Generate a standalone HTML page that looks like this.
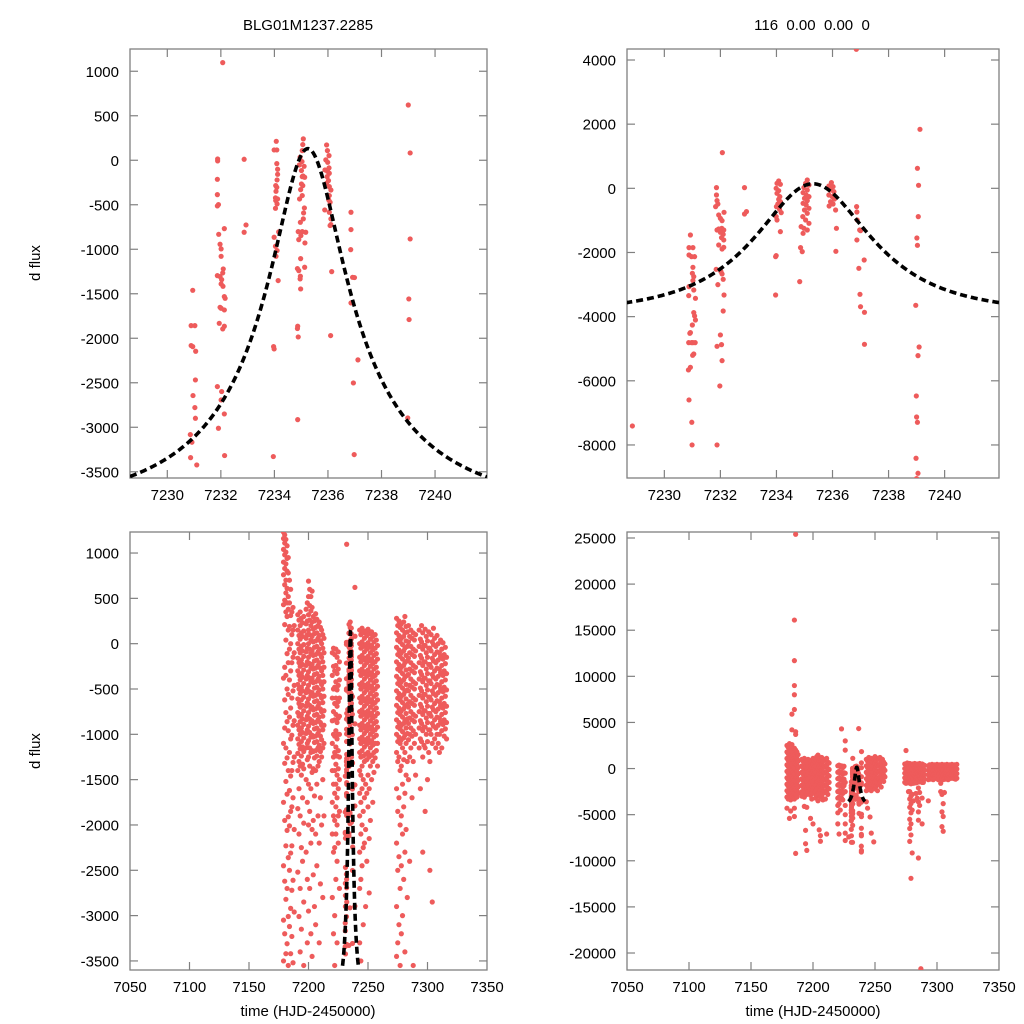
<!DOCTYPE html>
<html><head><meta charset="utf-8"><style>
body{margin:0;background:#fff;}
svg{display:block;font-family:"Liberation Sans",Arial,sans-serif;}
</style></head><body>
<svg id="chart" width="1024" height="1024" viewBox="0 0 1024 1024" xmlns="http://www.w3.org/2000/svg">
<text x="308" y="30" font-size="15" text-anchor="middle">BLG01M1237.2285</text>
<text x="812" y="30" font-size="15" text-anchor="middle" xml:space="preserve">116  0.00  0.00  0</text>
<text x="40" y="263" font-size="15" text-anchor="middle" transform="rotate(-90 40 263)">d flux</text>
<text x="40" y="751" font-size="15" text-anchor="middle" transform="rotate(-90 40 751)">d flux</text>
<text x="308" y="1016" font-size="15" text-anchor="middle">time (HJD-2450000)</text>
<text x="813" y="1016" font-size="15" text-anchor="middle">time (HJD-2450000)</text>
</svg>
<script>
// ---- zoomed-window data (top-left panel, left photometry) ----
const tlT=[7230.95,7230.89,7231.03,7230.89,7230.95,7231.06,7231.05,7230.96,7231.03,7231.05,7230.86,7230.92,7230.87,7231.10,
7232.07,7231.88,7231.88,7231.87,7231.87,7231.91,7231.87,7232.13,7231.92,7231.97,7232.01,7232.01,7232.09,7232.07,7231.87,7231.97,7232.03,7232.01,7232.08,7232.13,7232.16,7231.97,7232.01,7232.13,7231.94,7232.13,7232.07,7231.87,7232.03,7232.01,7232.13,7231.91,7232.14,
7232.87,7232.94,7232.87,
7234.07,7233.99,7234.09,7234.09,7234.12,7234.12,7234.10,7234.05,7234.09,7234.06,7234.04,7234.12,7234.05,7234.10,7234.04,7234.16,7233.99,7234.04,7234.10,7234.06,7234.14,7233.97,7233.99,7233.96,
7235.08,7235.06,7235.04,7234.96,7235.03,7234.93,7235.11,7235.01,7235.07,7235.04,7235.13,7235.01,7235.06,7234.98,7235.04,7234.94,7235.12,7235.09,7235.08,7234.97,7234.89,7235.04,7235.17,7234.99,7234.91,7235.14,7234.98,7235.13,7234.86,7234.91,7234.97,7234.96,7234.98,7234.87,7234.86,7234.89,7234.87,
7235.95,7235.98,7236.04,7235.92,7235.99,7236.04,7235.89,7235.98,7236.05,7235.97,7236.02,7235.95,7236.05,7236.11,7236.05,7236.03,7236.08,7235.88,7236.05,7236.11,7236.08,7236.11,7236.14,7236.10,
7236.86,7236.86,7236.85,7236.92,7236.99,7236.86,7237.12,7236.95,7236.98,
7239.00,7239.07,7239.07,7239.02,7239.03,7238.98];
const tlF=[-1461,-1858,-1858,-2082,-2094,-2146,-2468,-2644,-2779,-2899,-3082,-3168,-3341,-3423,
1097,15,-7,-214,-386,-498,-513,-768,-832,-944,-996,-1079,-1221,-1266,-1296,-1307,-1341,-1390,-1416,-1532,-1551,-1652,-1663,-1682,-1832,-1865,-1895,-2543,-2599,-2693,-2850,-3011,-3318,
11,-727,-809,
213,116,116,-38,-101,-158,-221,-285,-304,-349,-423,-435,-453,-491,-540,-805,-865,-966,-1015,-1079,-1352,-2094,-2120,-3329,
240,176,108,34,-15,-53,-68,-116,-176,-184,-191,-266,-285,-330,-397,-435,-536,-592,-659,-697,-802,-802,-809,-847,-892,-929,-1105,-1202,-1217,-1240,-1303,-1333,-1446,-1865,-1891,-1985,-2914,
172,108,52,4,-23,-86,-109,-124,-146,-184,-229,-259,-296,-334,-397,-446,-472,-558,-584,-659,-734,-723,-1251,-1970,
-584,-779,-1004,-1315,-1318,-1603,-2243,-2502,-3307,
621,82,-884,-1558,-1790,-2895];
// ---- zoomed-window data (top-right panel, right photometry) ----
const trT=[7236.85,7228.86,
7230.93,7230.88,7231.02,7230.88,7230.97,7231.08,7231.02,7231.00,7231.05,7231.02,7230.88,7230.87,7231.05,7231.11,7231.05,7231.08,7231.11,7231.00,7230.93,7230.91,7230.97,7230.87,7231.02,7231.10,7231.05,7231.01,7230.93,7230.86,7230.88,7230.98,7230.99,
7232.07,7231.86,7231.86,7231.88,7231.91,7231.83,7232.13,7231.94,7232.00,7232.06,7231.94,7232.05,7231.88,7232.12,7232.00,7232.10,7232.04,7232.12,7231.94,7232.12,7232.06,7231.85,7232.02,7232.06,7232.10,7231.91,7232.13,7232.10,7232.00,7232.04,7231.88,7232.06,7231.98,7231.88,
7232.86,7232.93,7232.86,
7234.08,7234.02,7234.14,7233.99,7234.08,7234.02,7234.12,7234.08,7234.14,7234.05,7234.00,7234.11,7234.17,7233.99,7234.02,7234.14,7233.99,7233.97,7233.97,
7235.10,7235.04,7235.16,7234.98,7235.10,7234.95,7235.06,7235.16,7235.00,7235.10,7234.95,7235.06,7235.16,7235.00,7235.10,7234.94,7235.04,7235.16,7234.88,7234.98,7235.10,7234.95,7234.86,7234.92,7234.83,
7235.96,7235.87,7236.02,7235.93,7236.05,7235.87,7235.99,7236.07,7235.93,7236.02,7235.88,7236.11,7236.14,7236.12,
7236.86,7236.87,7236.88,7236.97,7237.00,7236.87,7237.13,7236.94,7236.98,7237.00,7237.14,7237.14,
7239.12,7239.03,7239.07,7239.06,7239.01,7239.03,7238.97,7239.09,7239.05,7238.99,7239.00,7239.03,7238.98,7239.05,7239.00];
const trF=[4333,-7408,
-1455,-1849,-1849,-2078,-2130,-2130,-2462,-2649,-2753,-2878,-3065,-3346,-3169,-3429,-3875,-3979,-4104,-4260,-4499,-4519,-4810,-4810,-4810,-4810,-5164,-5205,-5579,-5662,-6597,-7293,-7999,
1112,21,-208,-384,-488,-571,-748,-831,-935,-1008,-1268,-1247,-1299,-1299,-1371,-1434,-1538,-1610,-1766,-1839,-1891,-2525,-2597,-2670,-2836,-3003,-3325,-3824,-4571,-4873,-4925,-5372,-6161,-7999,
21,-727,-800,
228,156,125,0,-73,-156,-260,-343,-416,-488,-571,-654,-758,-883,-987,-1351,-2099,-2130,-3325,
260,156,104,21,-52,-135,-208,-260,-312,-384,-467,-519,-623,-675,-779,-883,-987,-1091,-1195,-1247,-1299,-1403,-1849,-1974,-2909,
177,73,52,-52,-104,-208,-260,-333,-416,-488,-551,-675,-1247,-1964,
-571,-738,-987,-1299,-1320,-1610,-2234,-2494,-3304,-3689,-3865,-4863,
1839,624,94,-883,-1548,-1777,-3647,-4946,-5216,-6473,-7128,-7293,-8415,-8883,-9050];
// ---- full-season nightly data (bottom panels) ----
const nightT=[7179,7180,7181,7182,7183,7184,7185,7186,7187,7188,
7191,7192,7193,7194,7195,7196,7198,7199,7200,7201,7202,7203,7204,7205,7206,7207,7208,7209,7210,7211,7212,7213,
7220,7221,7222,7223,7224,7225,7226,
7243,7244,7245,7246,7247,7248,7249,7250,7251,7252,7253,7254,7255,7256,7257,7258,
7274,7275,7276,7277,7278,7279,7280,7281,7282,7283,7284,7285,7286,7287,7288,7289,7290,
7293,7294,7295,7296,7297,7298,7299,7300,7301,7302,7303,7304,7305,7306,7307,7308,7309,7310,7311,7312,7313,7314,7315,7316];
const nightFL=[
[1230,1160,1040,900,760,430,-380,-1100,-1750,-2450,-3050,-3500],
[1200,1110,980,830,650,480,210,-260,-620,-930,-1320,-1950,-2620,-3200],
[1150,1010,880,700,560,350,40,-350,-760,-1150,-1520,-2230,-2820,-3420],
[1080,940,800,610,450,300,-110,-500,-860,-1260,-1660,-2060,-2700,-3310],
[950,780,520,380,150,-210,-560,-960,-1400,-1910,-2360,-3010,-3550],
[700,450,190,-60,-400,-810,-1200,-1620,-2010,-2500,-3120],
[600,310,0,-300,-710,-1050,-1460,-1850,-2310,-2920,-3420],
[350,100,-210,-600,-1010,-1400,-1800,-2230,-2720,-3230],
[400,150,-150,-520,-900,-1310,-1700,-2610,-3520],
[200,-100,-460,-850,-1250,-2050,-2960],
[320,150,0,-160,-300,-450,-610,-760,-900,-1050,-1210,-1400,-1820,-2520],
[260,90,-60,-210,-350,-500,-660,-800,-950,-1110,-1300,-1600,-2100,-3010],
[350,200,50,-100,-250,-400,-550,-700,-860,-1000,-1160,-1350,-1900,-2700,-3400],
[280,120,-30,-180,-330,-480,-620,-780,-930,-1080,-1240,-1450,-2250,-3150],
[230,80,-80,-230,-370,-520,-680,-830,-980,-1140,-1330,-1700,-2400],
[300,140,-10,-140,-290,-440,-590,-740,-890,-1040,-1190,-1380,-1980,-2850,-3550],
[380,220,60,-90,-240,-390,-540,-690,-840,-990,-1150,-1500,-2300],
[450,250,100,-50,-200,-350,-500,-650,-800,-950,-1100,-1280,-1750,-2600,-3300],
[690,520,320,150,0,-150,-310,-460,-610,-760,-910,-1070,-1250,-1550,-2000,-2950],
[600,420,260,100,-60,-220,-380,-530,-680,-830,-980,-1150,-1350,-1850,-2700],
[520,360,200,40,-110,-270,-420,-570,-720,-870,-1030,-1200,-1600,-2200,-3200],
[580,400,240,80,-80,-230,-380,-540,-700,-850,-1010,-1180,-1420,-2050,-3450],
[300,160,20,-130,-280,-430,-580,-730,-880,-1030,-1190,-1380,-1950,-2550],
[250,110,-40,-190,-340,-490,-640,-790,-940,-1090,-1260,-1680,-2900],
[330,180,30,-120,-270,-420,-570,-720,-870,-1020,-1180,-1400,-2100,-3100],
[270,120,-30,-180,-330,-480,-630,-780,-930,-1080,-1240,-1550,-2450],
[200,60,-90,-240,-390,-540,-690,-840,-990,-1150,-1350,-1900],
[240,90,-60,-210,-360,-510,-660,-810,-960,-1120,-1300,-2200,-3300],
[180,30,-120,-270,-420,-570,-720,-870,-1020,-1190,-1700,-2650],
[150,0,-150,-300,-450,-600,-750,-900,-1060,-1250,-2000],
[100,-50,-200,-350,-500,-650,-800,-950,-1150,-1500,-2800],
[60,-100,-260,-420,-580,-740,-900,-1100,-1900],
[-100,-350,-600,-850,-1100,-1400,-1750,-2100,-2800],
[-50,-250,-500,-750,-1000,-1250,-1550,-1900,-2300,-3200],
[-120,-300,-480,-660,-840,-1020,-1200,-1400,-1650,-1950,-2250,-3000,-3550],
[-60,-240,-420,-600,-780,-960,-1140,-1330,-1550,-1800,-2100,-2600],
[-150,-330,-510,-690,-870,-1050,-1240,-1450,-1700,-2000,-2400,-3300],
[-90,-280,-460,-640,-820,-1000,-1180,-1380,-1600,-1900,-2200],
[-200,-400,-600,-800,-1000,-1250,-1500,-1850,-2700],
[150,0,-150,-300,-450,-600,-750,-900,-1050,-1200,-1400,-1650,-1900,-2300,-2700,-3300],
[100,-50,-200,-350,-500,-650,-800,-950,-1100,-1250,-1450,-1750,-2100,-2600,-3500],
[170,20,-130,-280,-430,-580,-730,-880,-1030,-1180,-1350,-1600,-2000,-2450],
[120,-30,-180,-330,-480,-630,-780,-930,-1080,-1240,-1500,-1850,-2250,-3100],
[60,-90,-240,-390,-540,-690,-840,-990,-1140,-1300,-1700,-2200],
[140,-10,-160,-310,-460,-610,-760,-910,-1060,-1220,-1550,-2050,-2900],
[90,-60,-210,-360,-510,-660,-810,-960,-1110,-1280,-1650,-2400],
[160,10,-140,-290,-440,-590,-740,-890,-1040,-1200,-1450,-1800],
[110,-40,-190,-340,-490,-640,-790,-940,-1090,-1250,-1600,-2150,-2750],
[50,-100,-250,-400,-550,-700,-850,-1000,-1150,-1350,-1950],
[130,-20,-170,-320,-470,-620,-770,-920,-1070,-1230,-1500],
[80,-70,-220,-370,-520,-670,-820,-970,-1120,-1300,-1750],
[20,-130,-280,-430,-580,-730,-880,-1030,-1200,-1420],
[100,-50,-200,-350,-500,-650,-800,-950,-1100,-1260],
[40,-110,-260,-410,-560,-710,-860,-1010,-1180],
[-20,-170,-320,-470,-620,-770,-920,-1100,-1350],
[280,120,-40,-200,-360,-520,-680,-840,-1000,-1200,-1600,-2200,-2900,-3450],
[200,40,-120,-280,-440,-600,-760,-920,-1080,-1300,-1850,-2500,-3300],
[250,90,-70,-230,-390,-550,-710,-870,-1030,-1250,-1700,-2350,-3100],
[180,20,-140,-300,-460,-620,-780,-940,-1100,-1400,-2000,-2700,-3550],
[220,60,-100,-260,-420,-580,-740,-900,-1060,-1350,-1900,-2450,-3200],
[150,-10,-170,-330,-490,-650,-810,-970,-1150,-1550,-2100,-3000],
[240,80,-80,-240,-400,-560,-720,-880,-1040,-1280,-1800,-2600],
[300,120,-50,-210,-370,-530,-690,-850,-1010,-1200,-1650,-2300,-3400],
[190,30,-130,-290,-450,-610,-770,-930,-1100,-1450,-2050],
[130,-30,-190,-350,-510,-670,-830,-990,-1300,-2800],
[200,20,-160,-340,-520,-700,-880,-1060,-1500],
[80,-100,-280,-460,-640,-820,-1000,-1250,-2400],
[150,-30,-210,-390,-570,-750,-930,-1150],
[60,-120,-300,-480,-660,-840,-1020,-1700],
[120,-60,-240,-420,-600,-780,-960,-1300,-3550],
[40,-140,-320,-500,-680,-860,-1100],
[100,-80,-260,-440,-620,-800,-1000,-1450],
[150,-30,-210,-390,-570,-750,-930,-1150],
[50,-130,-310,-490,-670,-850,-1050,-1600],
[200,20,-160,-340,-520,-700,-880,-1080],
[120,-60,-240,-420,-600,-780,-960,-1250,-2300],
[-20,-200,-380,-560,-740,-920,-1120],
[160,-20,-200,-380,-560,-740,-920,-1150,-1850],
[80,-100,-280,-460,-640,-820,-1000],
[30,-150,-330,-510,-690,-870,-1080,-1500],
[130,-50,-230,-410,-590,-770,-950,-1200],
[-50,-230,-410,-590,-770,-950,-1300,-2500],
[100,-80,-260,-440,-620,-800,-1000],
[20,-160,-340,-520,-700,-880,-1100,-2850],
[170,-10,-190,-370,-550,-730,-910],
[60,-120,-300,-480,-660,-840,-1050],
[-30,-210,-390,-570,-750,-930,-1150],
[90,-90,-270,-450,-630,-810,-1000],
[0,-180,-360,-540,-720,-900,-1100],
[-100,-280,-460,-640,-820,-1000,-1200],
[40,-140,-320,-500,-680,-860],
[-60,-240,-420,-600,-780,-960,-1150],
[10,-170,-350,-530,-710,-890],
[-120,-300,-480,-660,-840,-1020],
[-40,-220,-400,-580,-760,-940],
[-150,-330,-510,-690,-870,-1050]];
const nightFR=[
[2500,1800,1100,400,-300,-1000,-1700,-2400,-3100,-4300],
[2300,1600,900,200,-500,-1200,-1900,-2600,-3300],
[2700,2000,1300,600,-100,-800,-1500,-2200,-2900,-5400],
[2100,1400,700,0,-700,-1400,-2100,-2800,-3400,-4600],
[5900,4200,2600,1900,1200,500,-200,-900,-1600,-2300,-3000],
[1700,1000,300,-400,-1100,-1800,-2500,-3200],
[16100,11700,9000,8000,6400,2200,1500,800,100,-600,-1300,-2000,-2700,-3300,-4300,-5200],
[25400,4000,3700,2000,1300,600,-100,-800,-1500,-2200,-2900,-9200],
[1800,1100,400,-300,-1000,-1700,-2400,-3100],
[1500,800,100,-600,-1300,-2000,-2700],
[1000,300,-400,-1100,-1800,-2500,-3000],
[800,100,-600,-1300,-2000,-2700],
[1100,400,-300,-1000,-1700,-2400,-3100,-4100],
[900,200,-500,-1200,-1900,-2600,-6700,-8150],
[700,0,-700,-1400,-2100,-2800,-4200,-8870],
[1000,300,-400,-1100,-1800,-2500],
[600,-100,-800,-1500,-2200,-2900,-5400],
[900,200,-500,-1200,-1900,-2600,-3300],
[1100,400,-300,-1000,-1700,-2400,-6000],
[800,100,-600,-1300,-2000,-2700],
[1000,300,-400,-1100,-1800,-2500,-3200],
[1300,600,-100,-800,-1500,-2200,-2900],
[1460,700,0,-700,-1400,-2100,-2800,-3500],
[900,200,-500,-1200,-1900,-2600,-6650],
[1100,400,-300,-1000,-1700,-2400,-3100,-7270,-7880],
[1200,500,-200,-900,-1600,-2300,-3000],
[800,100,-600,-1300,-2000,-2700,-3400],
[1000,300,-400,-1100,-1800,-2500],
[900,200,-500,-1200,-1900,-2600,-3300],
[1100,400,-300,-1000,-1700,-2400,-7100],
[700,0,-700,-1400,-2100,-2800],
[600,-100,-800,-1500,-2200],
[300,-400,-1100,-1800,-2500,-3200,-4000,-4800,-6000],
[380,-300,-1000,-1700,-2400,-3100,-3800,-7100],
[200,-500,-1200,-1900,-2600,-3300,-4500],
[4300,300,-400,-1100,-1800,-2500,-3200],
[100,-600,-1300,-2000,-2700,-3400],
[250,-450,-1150,-1850,-2550],
[3000,2000,-500,-1500,-2500,-4000,-5000,-6000,-7000,-7800],
[1000,300,-400,-1100,-1800,-2400,-3600],
[800,100,-600,-1300,-2000,-4300],
[1200,500,-200,-900,-1600,-2300],
[900,200,-500,-1200,-1900,-5250],
[1100,400,-300,-1000,-1700,-2400,-7000],
[700,0,-700,-1400,-2100],
[1000,300,-400,-1100,-1800,-7950],
[1300,600,-100,-800,-1500,-2200],
[900,200,-500,-1200,-1900],
[1100,400,-300,-1000,-1700,-2400],
[1000,300,-400,-1100,-1700],
[1200,500,-200,-900,-1500],
[800,100,-600,-1300,-2000],
[1000,300,-400,-1100],
[700,0,-700,-1400],
[500,-200,-900],
[500,0,-500,-1000,-1500],
[1960,400,-100,-600,-1100,-1600],
[600,100,-400,-900,-1400],
[450,-50,-550,-1050,-1550,-2500],
[550,50,-450,-950,-1450,-2500,-3300,-4200,-5500,-6500,-7900],
[350,-150,-650,-1150,-1650,-3000,-3800,-4800,-6000,-7200,-11900],
[500,0,-500,-1000,-1500,-2800,-4500,-9150],
[400,-100,-600,-1100,-1600,-3500],
[550,50,-450,-950,-1450],
[450,-50,-550,-1050,-1550,-2700],
[500,0,-500,-1000,-1500,-3200],
[400,-100,-600,-1100,-2100,-3600,-4700,-5600,-9700],
[550,50,-450,-950,-1450,-2600,-4000],
[450,-50,-550,-1050,-21700],
[500,0,-500,-1000,-1500,-3200,-6000],
[400,-100,-600,-1100,-1500],
[350,-150,-650,-1150],
[300,-200,-700,-1200,-3500],
[400,-100,-600,-1100],
[350,-150,-650,-1150],
[450,-50,-550,-1050],
[300,-200,-700,-1200],
[400,-100,-600,-1100],
[350,-150,-650],
[450,-50,-550,-1050],
[300,-200,-700,-1200],
[400,-100,-600,-1100],
[350,-150,-650,-1150,-1600,-2500],
[450,-50,-550,-1050,-2800,-4700,-6300],
[300,-200,-700,-1200,-3800,-5200,-6800],
[400,-100,-600,-1100,-2600],
[350,-150,-650,-1150],
[450,-50,-550,-1050],
[300,-200,-700,-1200],
[400,-100,-600,-1100],
[350,-150,-650],
[450,-50,-550,-1050],
[300,-200,-700],
[400,-100,-600,-1100],
[350,-150,-650,-1150],
[450,-50,-550,-1050]];
// microlensing models: t0, u0, tE, source flux, baseline offset
const modelParamsL=[7235.25,0.19,7.5,940.6,-4887];
const modelParamsR=[7235.30,0.65,3.6,5234,-9134];
const modelRange=[7228.607,7241.94];
// tick labels
const xTicksTop=[7230,7232,7234,7236,7238,7240];
const xTicksBottom=[7050,7100,7150,7200,7250,7300,7350];
const yTicksTL=[1000,500,0,-500,-1000,-1500,-2000,-2500,-3000,-3500];
const yTicksTR=[4000,2000,0,-2000,-4000,-6000,-8000];
const yTicksBL=[1000,500,0,-500,-1000,-1500,-2000,-2500,-3000,-3500];
const yTicksBR=[25000,20000,15000,10000,5000,0,-5000,-10000,-15000,-20000];

const NS='http://www.w3.org/2000/svg';
const svg=document.getElementById('chart');
function mk(tag,attrs,parent){const e=document.createElementNS(NS,tag);for(const k in attrs)e.setAttribute(k,attrs[k]);(parent||svg).appendChild(e);return e;}
function scale(d0,d1,r0,r1){return v=>r0+(v-d0)/(d1-d0)*(r1-r0);}
function modelFlux(t,mp){const [t0,u0,tE,fs,fb]=mp;const tau=(t-t0)/tE;const u=Math.sqrt(u0*u0+tau*tau);const A=(u*u+2)/(u*Math.sqrt(u*u+4));return fb+fs*A;}

const panels=[
 {id:'top-left',x0:130,x1:487,y0:49,y1:478,xd:[7228.607,7241.94],yd:[-3570,1250],xt:xTicksTop,yt:yTicksTL,pts:'tl',night:null,mp:modelParamsL},
 {id:'top-right',x0:627,x1:999,y0:49,y1:478,xd:[7228.668,7241.94],yd:[-9030,4343],xt:xTicksTop,yt:yTicksTR,pts:'tr',night:null,mp:modelParamsR},
 {id:'bottom-left',x0:130,x1:487,y0:532,y1:970,xd:[7050,7350],yd:[-3600,1232],xt:xTicksBottom,yt:yTicksBL,pts:'tl',night:'L',mp:modelParamsL},
 {id:'bottom-right',x0:627,x1:999,y0:532,y1:970,xd:[7050,7350],yd:[-21843,25650],xt:xTicksBottom,yt:yTicksBR,pts:'tr',night:'R',mp:modelParamsR}
];
const DOT='#ee5b5b';
panels.forEach((p,pi)=>{
  const X=scale(p.xd[0],p.xd[1],p.x0,p.x1), Y=scale(p.yd[0],p.yd[1],p.y1,p.y0);
  const g=mk('g',{});
  
  
  const cp=mk('clipPath',{id:'clip'+pi},g);
  mk('rect',{x:p.x0,y:p.y0,width:p.x1-p.x0,height:p.y1-p.y0},cp);
  const frame=mk('rect',{x:p.x0,y:p.y0,width:p.x1-p.x0,height:p.y1-p.y0,fill:'none',stroke:'#808080','stroke-width':1.3},g);
  
  
  p.xt.forEach(v=>{
    const x=X(v);
    if(x>p.x0+1&&x<p.x1-1){
      mk('line',{x1:x,x2:x,y1:p.y1,y2:p.y1-8,stroke:'#808080','stroke-width':1.2},g);
      mk('line',{x1:x,x2:x,y1:p.y0,y2:p.y0+8,stroke:'#808080','stroke-width':1.2},g);
    }
    const t=mk('text',{x:x,y:p.y1+22,'font-size':15,'text-anchor':'middle'},g);
    t.textContent=String(v);
    
    
  });
  p.yt.forEach(v=>{
    const y=Y(v);
    mk('line',{x1:p.x0,x2:p.x0+8,y1:y,y2:y,stroke:'#808080','stroke-width':1.2},g);
    mk('line',{x1:p.x1,x2:p.x1-8,y1:y,y2:y,stroke:'#808080','stroke-width':1.2},g);
    const t=mk('text',{x:p.x0-11,y:y+5.5,'font-size':15,'text-anchor':'end'},g);
    t.textContent=String(v);
    
    
  });
  const pg=mk('g',{'clip-path':'url(#clip'+pi+')',fill:DOT},g);
  
  
  if(p.night){
    const NF=p.night==='L'?nightFL:nightFR;
    nightT.forEach((t,i)=>{NF[i].forEach(f=>{
      const c=mk('circle',{cx:X(t),cy:Y(f),r:2.6},pg);
      
      
    });});
  }
  const T=p.pts==='tl'?tlT:trT, F=p.pts==='tl'?tlF:trF;
  T.forEach((t,i)=>{
    const c=mk('circle',{cx:X(t),cy:Y(F[i]),r:2.6},pg);
    
    
  });
  let d='';
  for(let k=0;k<=300;k++){const t=modelRange[0]+(modelRange[1]-modelRange[0])*k/300;d+=(k?'L':'M')+X(t).toFixed(2)+','+Y(modelFlux(t,p.mp)).toFixed(2);}
  const path=mk('path',{d:d,fill:'none',stroke:'#000','stroke-width':3.6,'stroke-dasharray':'7,4','clip-path':'url(#clip'+pi+')'},g);
  
  
});
</script>
</body></html>
